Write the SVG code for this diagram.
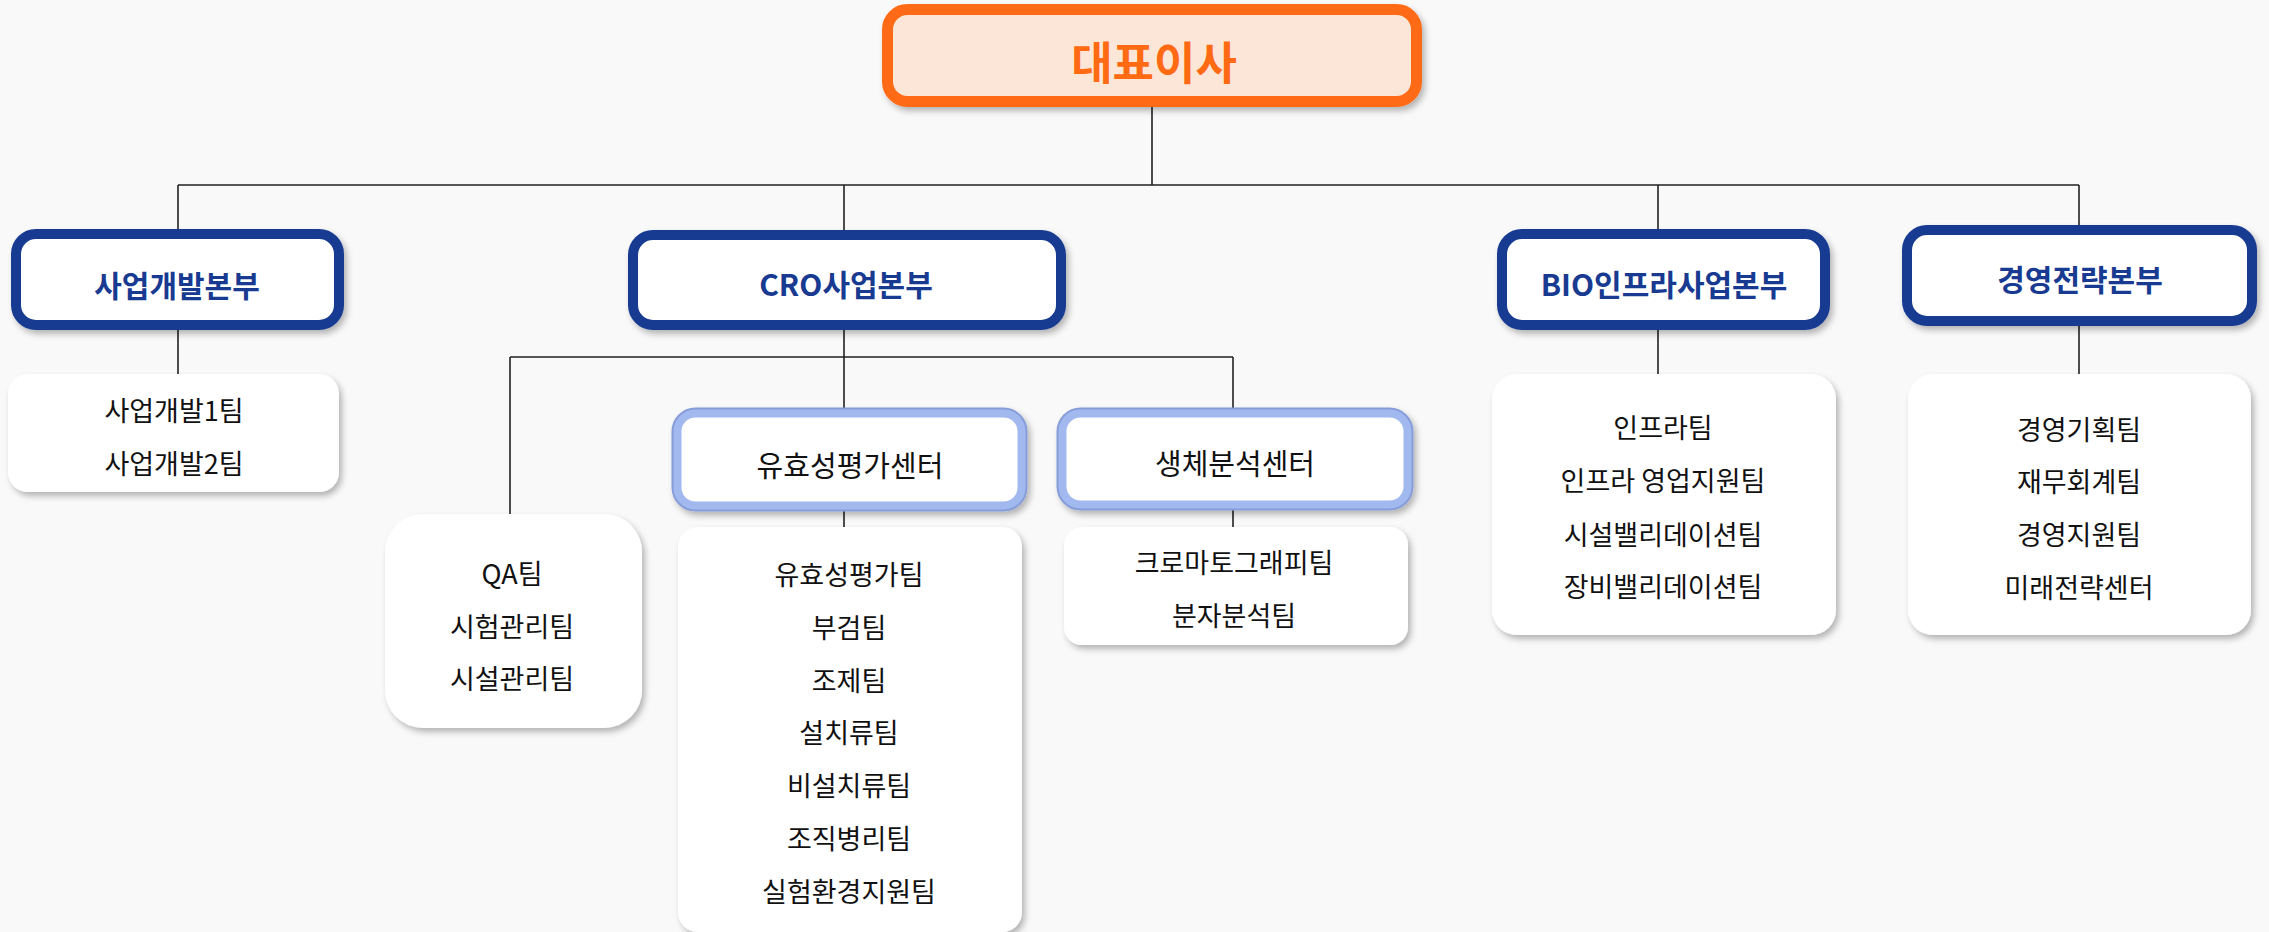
<svg xmlns="http://www.w3.org/2000/svg" width="2269" height="932" viewBox="0 0 2269 932">
<defs>
<filter id="sh" x="-10%" y="-10%" width="125%" height="130%">
<feDropShadow dx="3" dy="4" stdDeviation="3" flood-color="#000" flood-opacity="0.28"/>
</filter>
<style>
.ln{fill:none;stroke:#222;stroke-width:1.6}
.ceo{fill:#fce6d8;stroke:#ff6b14;stroke-width:11}
.div{fill:#fff;stroke:#183a91;stroke-width:10}
.ctro{fill:#fff;stroke:#869dd9;stroke-width:12}
.ctr{fill:#fff;stroke:#a2b9ef;stroke-width:8}
.team{fill:#fff}
text{font-family:"Noto Sans CJK KR","Noto Sans",sans-serif;text-anchor:middle}
.tceo{font-size:45px;font-weight:bold;fill:#ff6a13}
.tdiv{font-size:30px;font-weight:bold;fill:#183a91}
.tctr{font-size:29px;fill:#111}
.tteam{font-size:27px;fill:#111}
</style>
</defs>
<rect width="2269" height="932" fill="#f9f9f9"/>
<g id="connectors">
<path class="ln" d="M1152 107V185M178 185H2079M178 185V229M178 330V374M844 185V230M844 330V408M844 511V527M510 357H1233M510 357V514M1233 357V408M1233 510V527M1658 185V229M1658 330V374M2079 185V225M2079 326V374"/>
</g>
<g id="ceo">
<rect class="ceo" x="887.5" y="9.5" width="529" height="92" rx="20" filter="url(#sh)"/>
<text class="tceo" x="1154" y="80">대표이사</text>
</g>
<g id="div-bizdev">
<rect class="div" x="16" y="234" width="323" height="91" rx="20" filter="url(#sh)"/>
<text class="tdiv" x="177" y="297">사업개발본부</text>
</g>
<g id="div-cro">
<rect class="div" x="633" y="235" width="428" height="90" rx="20" filter="url(#sh)"/>
<text class="tdiv" x="846" y="296">CRO사업본부</text>
</g>
<g id="div-bio">
<rect class="div" x="1502" y="234" width="323" height="91" rx="20" filter="url(#sh)"/>
<text class="tdiv" x="1664" y="296">BIO인프라사업본부</text>
</g>
<g id="div-mgmt">
<rect class="div" x="1907" y="230" width="345" height="91" rx="20" filter="url(#sh)"/>
<text class="tdiv" x="2080" y="291">경영전략본부</text>
</g>
<g id="ctr-efficacy">
<rect class="ctro" x="677.5" y="413.5" width="344" height="92" rx="18" filter="url(#sh)"/>
<rect class="ctr" x="677.5" y="413.5" width="344" height="92" rx="18"/>
<text class="tctr" x="850" y="477">유효성평가센터</text>
</g>
<g id="ctr-bio">
<rect class="ctro" x="1062.5" y="413.5" width="345" height="91" rx="18" filter="url(#sh)"/>
<rect class="ctr" x="1062.5" y="413.5" width="345" height="91" rx="18"/>
<text class="tctr" x="1235" y="475">생체분석센터</text>
</g>
<g id="team-bizdev">
<rect class="team" x="8" y="374" width="331" height="118" rx="20" filter="url(#sh)"/>
<text class="tteam" x="174" y="421">사업개발1팀</text>
<text class="tteam" x="174" y="474">사업개발2팀</text>
</g>
<g id="team-qa">
<rect class="team" x="385" y="514" width="257" height="214" rx="38" filter="url(#sh)"/>
<text class="tteam" x="512" y="584">QA팀</text>
<text class="tteam" x="512" y="637">시험관리팀</text>
<text class="tteam" x="512" y="689">시설관리팀</text>
</g>
<g id="team-efficacy">
<rect class="team" x="678" y="527" width="344" height="405" rx="20" filter="url(#sh)"/>
<text class="tteam" x="849" y="585">유효성평가팀</text>
<text class="tteam" x="849" y="638">부검팀</text>
<text class="tteam" x="849" y="691">조제팀</text>
<text class="tteam" x="849" y="743">설치류팀</text>
<text class="tteam" x="849" y="796">비설치류팀</text>
<text class="tteam" x="849" y="849">조직병리팀</text>
<text class="tteam" x="849" y="902">실험환경지원팀</text>
</g>
<g id="team-bioanalysis">
<rect class="team" x="1064" y="527" width="344" height="118" rx="18" filter="url(#sh)"/>
<text class="tteam" x="1234" y="573">크로마토그래피팀</text>
<text class="tteam" x="1234" y="626">분자분석팀</text>
</g>
<g id="team-bio">
<rect class="team" x="1492" y="374" width="344" height="261" rx="25" filter="url(#sh)"/>
<text class="tteam" x="1663" y="438">인프라팀</text>
<text class="tteam" x="1663" y="491">인프라 영업지원팀</text>
<text class="tteam" x="1663" y="545">시설밸리데이션팀</text>
<text class="tteam" x="1663" y="597">장비밸리데이션팀</text>
</g>
<g id="team-mgmt">
<rect class="team" x="1908" y="374" width="343" height="261" rx="25" filter="url(#sh)"/>
<text class="tteam" x="2079" y="440">경영기획팀</text>
<text class="tteam" x="2079" y="492">재무회계팀</text>
<text class="tteam" x="2079" y="545">경영지원팀</text>
<text class="tteam" x="2079" y="598">미래전략센터</text>
</g>
</svg>
